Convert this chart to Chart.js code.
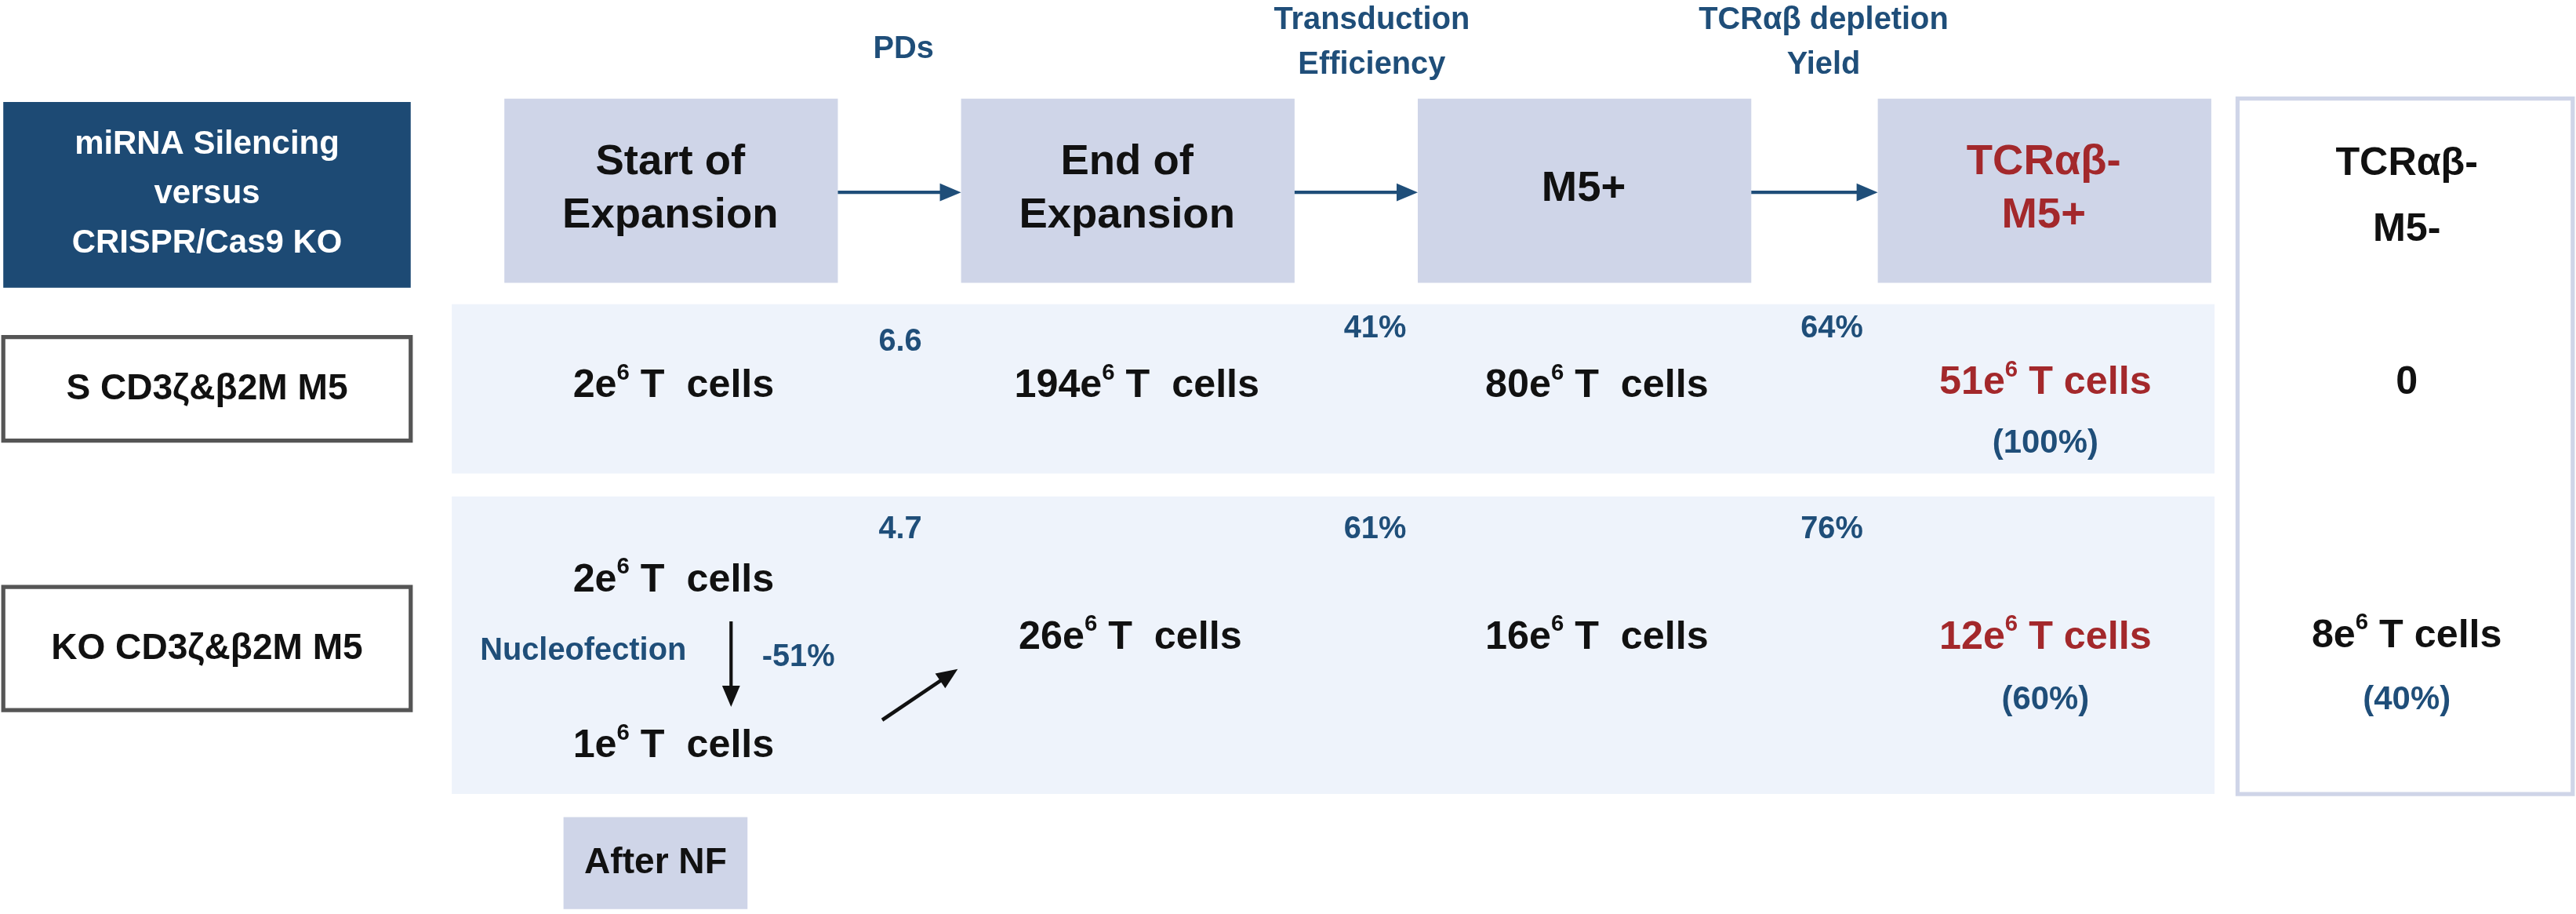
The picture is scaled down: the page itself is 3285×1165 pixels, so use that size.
<!DOCTYPE html>
<html><head><meta charset="utf-8">
<script src="https://cdn.jsdelivr.net/npm/chart.js@4"></script>
<style>html,body{margin:0;padding:0;background:#fff}#w{width:3285px;height:1165px}</style>
</head><body><div id="w"><canvas id="c"></canvas></div>
<script>
const comparison = ["miRNA Silencing", "versus", "CRISPR/Cas9 KO"];
const stages = [["Start of", "Expansion"], ["End of", "Expansion"], ["M5+"], ["TCRαβ-", "M5+"]];
const metrics = [["PDs"], ["Transduction", "Efficiency"], ["TCRαβ depletion", "Yield"]];
const rowLabels = ["S CD3ζ&β2M M5", "KO CD3ζ&β2M M5"];
const silencingCounts = [2, 194, 80, 51];
const koCounts = [2, 26, 16, 12];
const koAfterNF = 1;
const silencingMetrics = ["6.6", "41%", "64%"];
const koMetrics = ["4.7", "61%", "76%"];
const nucleofectionLoss = "-51%";
const tcrPosShare = ["(100%)", "(60%)"];
const tcrNeg = ["TCRαβ-", "M5-"];
const tcrNegCounts = [0, 8];
const tcrNegShare = "(40%)";

const NAVY = "#1d4a74", BLUE = "#1f4e79", RED = "#a3282b", LAV = "#cfd5e8", BAND = "#eef3fb";
const FF = "'Liberation Sans', Arial, sans-serif";

const diagram = {
  id: "diagram",
  afterDraw(chart) {
    const c = chart.ctx, sx = chart.scales.x, sy = chart.scales.y;
    const X = v => sx.getPixelForValue(v), Y = v => sy.getPixelForValue(v);
    const k = (X(1568) - X(0)) / 1568;
    const rect = (x0, y0, x1, y1, fill, stroke) => {
      c.beginPath(); c.rect(X(x0), Y(y0), X(x1) - X(x0), Y(y1) - Y(y0));
      if (fill) { c.fillStyle = fill; c.fill(); }
      if (stroke) { c.strokeStyle = stroke; c.lineWidth = 2.5 * k; c.stroke(); }
    };
    const text = (s, x, y, size, color, align) => {
      c.font = "bold " + size * k + "px " + FF; c.fillStyle = color;
      c.textAlign = align || "center"; c.textBaseline = "middle";
      c.fillText(s, X(x), Y(y));
    };
    const lines = (arr, x, y, gap, size, color) => {
      const y0 = y - gap * (arr.length - 1) / 2;
      arr.forEach((s, i) => text(s, x, y0 + i * gap, size, color));
    };
    const cells = (n, x, y, color, sp) => {
      const size = 24;
      c.font = "bold " + size * k + "px " + FF;
      const a = n + "e", b = (sp ? " T  cells" : " T cells");
      c.font = "bold " + size * k + "px " + FF;
      const wa = c.measureText(a).width, wb = c.measureText(b).width;
      c.font = "bold " + 14 * k + "px " + FF;
      const ws = c.measureText("6").width;
      let left = X(x) - (wa + ws + wb) / 2;
      c.fillStyle = color; c.textAlign = "left"; c.textBaseline = "middle";
      c.font = "bold " + size * k + "px " + FF; c.fillText(a, left, Y(y));
      c.font = "bold " + 14 * k + "px " + FF; c.fillText("6", left + wa, Y(y - 8));
      c.font = "bold " + size * k + "px " + FF; c.fillText(b, left + wa + ws, Y(y));
    };
    const arrow = (x0, y0, x1, y1, color, w) => {
      const ax = X(x0), ay = Y(y0), bx = X(x1), by = Y(y1);
      const ang = Math.atan2(by - ay, bx - ax), h = 14 * k;
      c.strokeStyle = color; c.fillStyle = color; c.lineWidth = w * k;
      c.beginPath(); c.moveTo(ax, ay); c.lineTo(bx - Math.cos(ang) * h * 0.8, by - Math.sin(ang) * h * 0.8); c.stroke();
      c.beginPath(); c.moveTo(bx, by);
      c.lineTo(bx - h * Math.cos(ang - 0.4), by - h * Math.sin(ang - 0.4));
      c.lineTo(bx - h * Math.cos(ang + 0.4), by - h * Math.sin(ang + 0.4));
      c.closePath(); c.fill();
    };
    c.save();
    // left comparison box
    rect(2, 62, 250, 175, NAVY);
    lines(comparison, 126, 118, 30, 20, "#fff");
    // header boxes
    const bx = [307, 585, 863, 1143];
    stages.forEach((s, i) => {
      rect(bx[i], 60, bx[i] + 203, 172, LAV);
      lines(s, bx[i] + 101, 115, 32, 26, i === 3 ? RED : "#111");
    });
    for (let i = 0; i < 3; i++) arrow(bx[i] + 203, 117, bx[i + 1], 117, BLUE, 2);
    const mx = [550, 835, 1110], my = [30, 26, 26];
    metrics.forEach((m, i) => lines(m, mx[i], my[i], 27, 19, BLUE));
    // bands
    rect(275, 185, 1348, 288, BAND);
    rect(275, 302, 1348, 483, BAND);
    // right box
    rect(1362, 60, 1566, 483, "#fff", LAV);
    lines(tcrNeg, 1465, 120, 40, 24, "#111");
    text(String(tcrNegCounts[0]), 1465, 233, 24, "#111");
    cells(tcrNegCounts[1], 1465, 387, "#111", false);
    text(tcrNegShare, 1465, 426, 20, BLUE);
    // row labels
    rect(2, 205, 250, 268, "#fff", "#555");
    text(rowLabels[0], 126, 237, 22, "#111");
    rect(2, 357, 250, 432, "#fff", "#555");
    text(rowLabels[1], 126, 395, 22, "#111");
    // row 1
    const cx = [410, 692, 972];
    cx.forEach((x, i) => cells(silencingCounts[i], x, 235, "#111", true));
    cells(silencingCounts[3], 1245, 233, RED, false);
    text(tcrPosShare[0], 1245, 270, 20, BLUE);
    const vx = [548, 837, 1115];
    silencingMetrics.forEach((m, i) => text(m, vx[i], i ? 200 : 208, 19, BLUE));
    // row 2
    koMetrics.forEach((m, i) => text(m, vx[i], 322, 19, BLUE));
    cells(koCounts[0], 410, 353, "#111", true);
    text("Nucleofection", 355, 396, 19, BLUE);
    text(nucleofectionLoss, 486, 400, 19, BLUE);
    arrow(445, 378, 445, 430, "#111", 2);
    cells(koAfterNF, 410, 454, "#111", true);
    arrow(537, 438, 583, 407, "#111", 2.2);
    cells(koCounts[1], 688, 388, "#111", true);
    cells(koCounts[2], 972, 388, "#111", true);
    cells(koCounts[3], 1245, 388, RED, false);
    text(tcrPosShare[1], 1245, 426, 20, BLUE);
    // after NF
    rect(343, 497, 455, 553, LAV);
    text("After NF", 399, 525, 22, "#111");
    c.restore();
  }
};

new Chart(document.getElementById("c"), {
  type: "scatter",
  data: { datasets: [{ data: [] }] },
  options: {
    responsive: true, maintainAspectRatio: false, animation: false,
    layout: { padding: 0 },
    plugins: { legend: { display: false }, tooltip: { enabled: false } },
    scales: {
      x: { type: "linear", min: 0, max: 1568, display: false },
      y: { type: "linear", min: 0, max: 556, reverse: true, display: false }
    }
  },
  plugins: [diagram]
});
</script></body></html>
